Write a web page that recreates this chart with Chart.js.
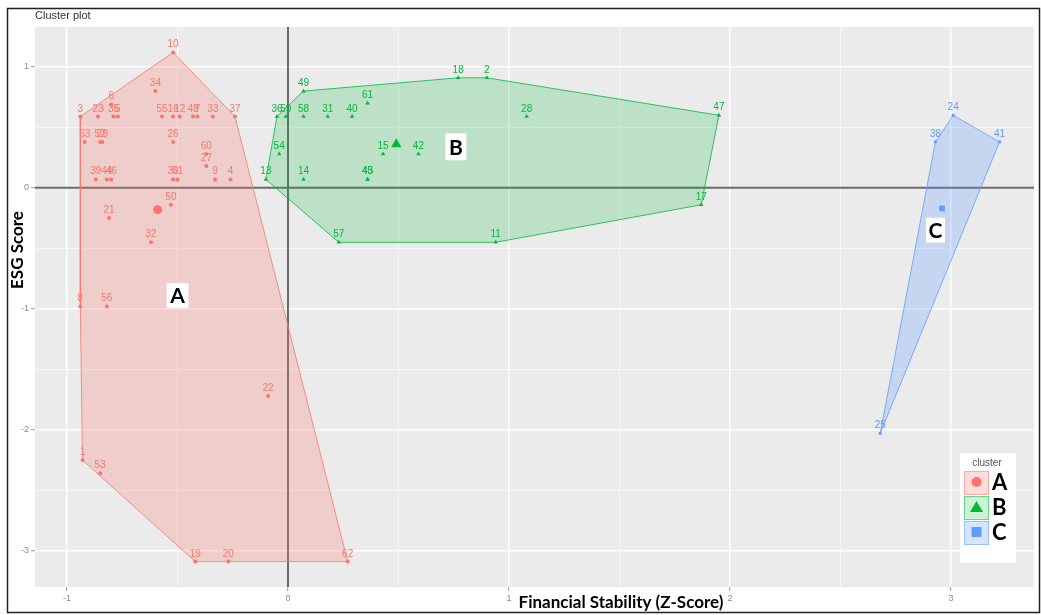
<!DOCTYPE html>
<html>
<head>
<meta charset="utf-8">
<title>Cluster plot</title>
<script src="https://cdn.jsdelivr.net/npm/chart.js@4.4.1/dist/chart.umd.min.js"></script>
<style>
  html, body { margin: 0; padding: 0; background: #fff; }
  #wrap { width: 1041px; height: 615px; position: relative; }
</style>
</head>
<body>
<div id="wrap"><canvas id="clusterChart"></canvas></div>
<script>
// Cluster A: company ids, Z-score and ESG score
const idsA = [10, 34, 6, 3, 23, 35, 5, 55, 16, 12, 48, 7, 33, 37, 63, 52, 29, 26, 60, 27,
              39, 44, 46, 30, 51, 9, 4, 50, 21, 32, 8, 56, 22, 1, 53, 19, 20, 62];
const zA = [-0.52, -0.60, -0.80, -0.94, -0.86, -0.79, -0.77, -0.57, -0.52, -0.49, -0.43, -0.41, -0.34, -0.24,
            -0.92, -0.85, -0.84, -0.52, -0.37, -0.37, -0.87, -0.82, -0.80, -0.52, -0.50, -0.33, -0.26,
            -0.53, -0.81, -0.62, -0.94, -0.82, -0.09, -0.93, -0.85, -0.42, -0.27, 0.27];
const esgA = [1.12, 0.80, 0.69, 0.59, 0.59, 0.59, 0.59, 0.59, 0.59, 0.59, 0.59, 0.59, 0.59, 0.59,
              0.38, 0.38, 0.38, 0.38, 0.28, 0.18, 0.07, 0.07, 0.07, 0.07, 0.07, 0.07, 0.07,
              -0.14, -0.25, -0.45, -0.98, -0.98, -1.72, -2.25, -2.36, -3.09, -3.09, -3.09];

// Cluster B
const idsB = [49, 18, 2, 61, 36, 59, 58, 31, 40, 28, 47, 54, 15, 42, 13, 14, 43, 45, 57, 11, 17];
const zB = [0.07, 0.77, 0.90, 0.36, -0.05, -0.01, 0.07, 0.18, 0.29, 1.08, 1.95, -0.04, 0.43, 0.59,
            -0.10, 0.07, 0.36, 0.36, 0.23, 0.94, 1.87];
const esgB = [0.80, 0.91, 0.91, 0.70, 0.59, 0.59, 0.59, 0.59, 0.59, 0.59, 0.60, 0.28, 0.28, 0.28,
              0.07, 0.07, 0.07, 0.07, -0.45, -0.45, -0.14];

// Cluster C
const idsC = [24, 38, 41, 25];
const zC = [3.01, 2.93, 3.22, 2.68];
const esgC = [0.60, 0.38, 0.38, -2.03];

// cluster centres [z, esg]
const centerA = [-0.59, -0.18];
const centerB = [0.49, 0.36];
const centerC = [2.96, -0.17];

const clusterNames = ['A', 'B', 'C'];
const xTicks = [-1, 0, 1, 2, 3];
const yTicks = [1, 0, -1, -2, -3];

const COLORS = { A: '#F8766D', B: '#00BA38', C: '#619CFF' };
const FILLS = { A: 'rgba(248,118,109,0.26)', B: 'rgba(0,186,56,0.20)', C: 'rgba(97,156,255,0.26)' };
const SHAPES = { A: 'circle', B: 'triangle', C: 'rect' };

function toPoints(ids, xs, ys) {
  return xs.map((x, i) => ({ x: x, y: ys[i], id: ids[i] }));
}

// monotone chain convex hull, closed (first point repeated)
function hull(pts) {
  const p = pts.map(d => ({ x: d.x, y: d.y })).sort((a, b) => a.x - b.x || a.y - b.y);
  const cross = (o, a, b) => (a.x - o.x) * (b.y - o.y) - (a.y - o.y) * (b.x - o.x);
  const lower = [], upper = [];
  for (const q of p) {
    while (lower.length >= 2 && cross(lower[lower.length - 2], lower[lower.length - 1], q) <= 0) lower.pop();
    lower.push(q);
  }
  for (let i = p.length - 1; i >= 0; i--) {
    const q = p[i];
    while (upper.length >= 2 && cross(upper[upper.length - 2], upper[upper.length - 1], q) <= 0) upper.pop();
    upper.push(q);
  }
  upper.pop(); lower.pop();
  const h = lower.concat(upper);
  h.push(h[0]);
  return h;
}

const ptsA = toPoints(idsA, zA, esgA);
const ptsB = toPoints(idsB, zB, esgB);
const ptsC = toPoints(idsC, zC, esgC);
const groups = { A: ptsA, B: ptsB, C: ptsC };
const centers = { A: centerA, B: centerB, C: centerC };

const datasets = [];
clusterNames.forEach(k => {
  datasets.push({
    label: 'hull ' + k,
    data: hull(groups[k]),
    showLine: true,
    fill: 'shape',
    backgroundColor: FILLS[k],
    borderColor: COLORS[k],
    borderWidth: 0.8,
    pointRadius: 0,
    tension: 0,
    order: 5
  });
  datasets.push({
    label: k,
    data: groups[k],
    pointStyle: SHAPES[k],
    pointRadius: k === 'B' ? 2.6 : 2,
    backgroundColor: COLORS[k],
    borderColor: COLORS[k],
    borderWidth: 0,
    showLabels: true,
    order: 2
  });
  datasets.push({
    label: 'centre ' + k,
    data: [{ x: centers[k][0], y: centers[k][1] }],
    pointStyle: SHAPES[k],
    pointRadius: k === 'B' ? 6 : (k === 'A' ? 4.5 : 4),
    backgroundColor: COLORS[k],
    borderColor: COLORS[k],
    borderWidth: 0,
    order: 1
  });
});

// cluster letters in white boxes, placed in data coordinates
const clusterTags = [
  { text: 'A', x: -0.50, y: -0.89, w: 22, h: 25 },
  { text: 'B', x: 0.76, y: 0.34, w: 21, h: 27 },
  { text: 'C', x: 2.93, y: -0.35, w: 19, h: 25 }
];

const isWhole = v => Math.abs(v - Math.round(v)) < 1e-6;

const panelPlugin = {
  id: 'panel',
  beforeDraw(chart) {
    const { ctx, chartArea: a } = chart;
    ctx.save();
    ctx.fillStyle = '#EBEBEB';
    ctx.fillRect(a.left, a.top, a.right - a.left, a.bottom - a.top);
    ctx.restore();
  },
  beforeDatasetsDraw(chart) {
    const { ctx, chartArea: a, scales } = chart;
    const x0 = scales.x.getPixelForValue(0);
    const y0 = scales.y.getPixelForValue(0);
    ctx.save();
    ctx.strokeStyle = '#6a6a6a';
    ctx.lineWidth = 2;
    ctx.beginPath();
    ctx.moveTo(x0, a.top); ctx.lineTo(x0, a.bottom);
    ctx.moveTo(a.left, y0); ctx.lineTo(a.right, y0);
    ctx.stroke();
    ctx.restore();
  },
  afterDatasetsDraw(chart) {
    const { ctx, scales } = chart;
    ctx.save();
    // point ids
    ctx.font = '10px "Liberation Sans", Arial, sans-serif';
    ctx.textAlign = 'center';
    ctx.textBaseline = 'alphabetic';
    chart.data.datasets.forEach((ds, i) => {
      if (!ds.showLabels) return;
      const meta = chart.getDatasetMeta(i);
      ctx.fillStyle = ds.borderColor;
      meta.data.forEach((el, j) => {
        ctx.fillText(String(ds.data[j].id), el.x, el.y - 5);
      });
    });
    // cluster letters
    ctx.font = 'bold 21px Lato, "Open Sans", sans-serif';
    ctx.textBaseline = 'middle';
    clusterTags.forEach(t => {
      const px = scales.x.getPixelForValue(t.x);
      const py = scales.y.getPixelForValue(t.y);
      ctx.fillStyle = '#ffffff';
      ctx.fillRect(px - t.w / 2, py - t.h / 2, t.w, t.h);
      ctx.fillStyle = '#000000';
      ctx.fillText(t.text, px, py + 1);
    });
    ctx.restore();
  },
  afterDraw(chart) {
    const { ctx, chartArea: a } = chart;
    ctx.save();
    // plot title
    ctx.fillStyle = '#333';
    ctx.font = '11px "Liberation Sans", Arial, sans-serif';
    ctx.textAlign = 'left';
    ctx.textBaseline = 'middle';
    ctx.fillText('Cluster plot', a.left, 16);

    // axis titles
    ctx.fillStyle = '#000';
    ctx.font = 'bold 17px Lato, "Open Sans", sans-serif';
    ctx.textAlign = 'center';
    ctx.fillText('Financial Stability (Z-Score)', 621, 603);
    ctx.save();
    ctx.translate(18, 250);
    ctx.rotate(-Math.PI / 2);
    ctx.fillText('ESG Score', 0, 0);
    ctx.restore();

    // legend
    const lx = 960, ly = 453;
    ctx.fillStyle = '#ffffff';
    ctx.fillRect(lx, ly, 56, 110);
    ctx.fillStyle = '#555';
    ctx.font = '10px "Liberation Sans", Arial, sans-serif';
    ctx.fillText('cluster', lx + 27, ly + 10);
    clusterNames.forEach((k, i) => {
      const ky = ly + 18 + i * 25;
      ctx.fillStyle = FILLS[k];
      ctx.fillRect(lx + 4, ky, 25, 24);
      ctx.strokeStyle = COLORS[k];
      ctx.globalAlpha = 0.5;
      ctx.lineWidth = 1;
      ctx.strokeRect(lx + 4.5, ky + 0.5, 24, 23);
      ctx.globalAlpha = 1;
      ctx.fillStyle = COLORS[k];
      const cx = lx + 16.5, cy = ky + 11;
      ctx.beginPath();
      if (k === 'A') {
        ctx.arc(cx, cy, 5, 0, Math.PI * 2);
      } else if (k === 'B') {
        ctx.moveTo(cx, cy - 6); ctx.lineTo(cx + 6.5, cy + 5); ctx.lineTo(cx - 6.5, cy + 5); ctx.closePath();
      } else {
        ctx.rect(cx - 5, cy - 5, 10, 10);
      }
      ctx.fill();
      ctx.fillStyle = '#000';
      ctx.font = 'bold 22px Lato, "Open Sans", sans-serif';
      ctx.textAlign = 'left';
      ctx.fillText(k, lx + 32, cy + 1);
      ctx.textAlign = 'center';
    });

    // outer frame
    ctx.strokeStyle = '#222';
    ctx.lineWidth = 1.5;
    ctx.strokeRect(7.5, 8.5, 1032, 604);
    ctx.restore();
  }
};

function axisOptions(min, max, allowed) {
  return {
    type: 'linear',
    min: min,
    max: max,
    border: { display: false },
    grid: {
      color: '#ffffff',
      lineWidth: c => (c.tick && isWhole(c.tick.value)) ? 1.4 : 0.6,
      drawTicks: true,
      tickLength: 4,
      tickColor: c => (c.tick && isWhole(c.tick.value)) ? '#9a9a9a' : 'rgba(0,0,0,0)',
      tickWidth: 1
    },
    ticks: {
      stepSize: 0.5,
      includeBounds: false,
      autoSkip: false,
      maxRotation: 0,
      padding: 2,
      color: '#8a8a8a',
      font: { family: '"Liberation Sans", Arial, sans-serif', size: 9 },
      callback: v => (isWhole(v) && allowed.includes(Math.round(v))) ? String(Math.round(v)) : ''
    }
  };
}

const xAxis = axisOptions(-1.145, 3.376, xTicks);
xAxis.afterFit = s => { s.height = 28; };
const yAxis = axisOptions(-3.30, 1.33, yTicks);
yAxis.afterFit = s => { s.width = 35; };

new Chart(document.getElementById('clusterChart'), {
  type: 'scatter',
  data: { datasets: datasets },
  options: {
    responsive: true,
    maintainAspectRatio: false,
    animation: false,
    layout: { padding: { left: 0, top: 27, right: 7, bottom: 0 } },
    plugins: {
      legend: { display: false },
      tooltip: { enabled: false }
    },
    scales: { x: xAxis, y: yAxis }
  },
  plugins: [panelPlugin]
});
</script>
</body>
</html>
